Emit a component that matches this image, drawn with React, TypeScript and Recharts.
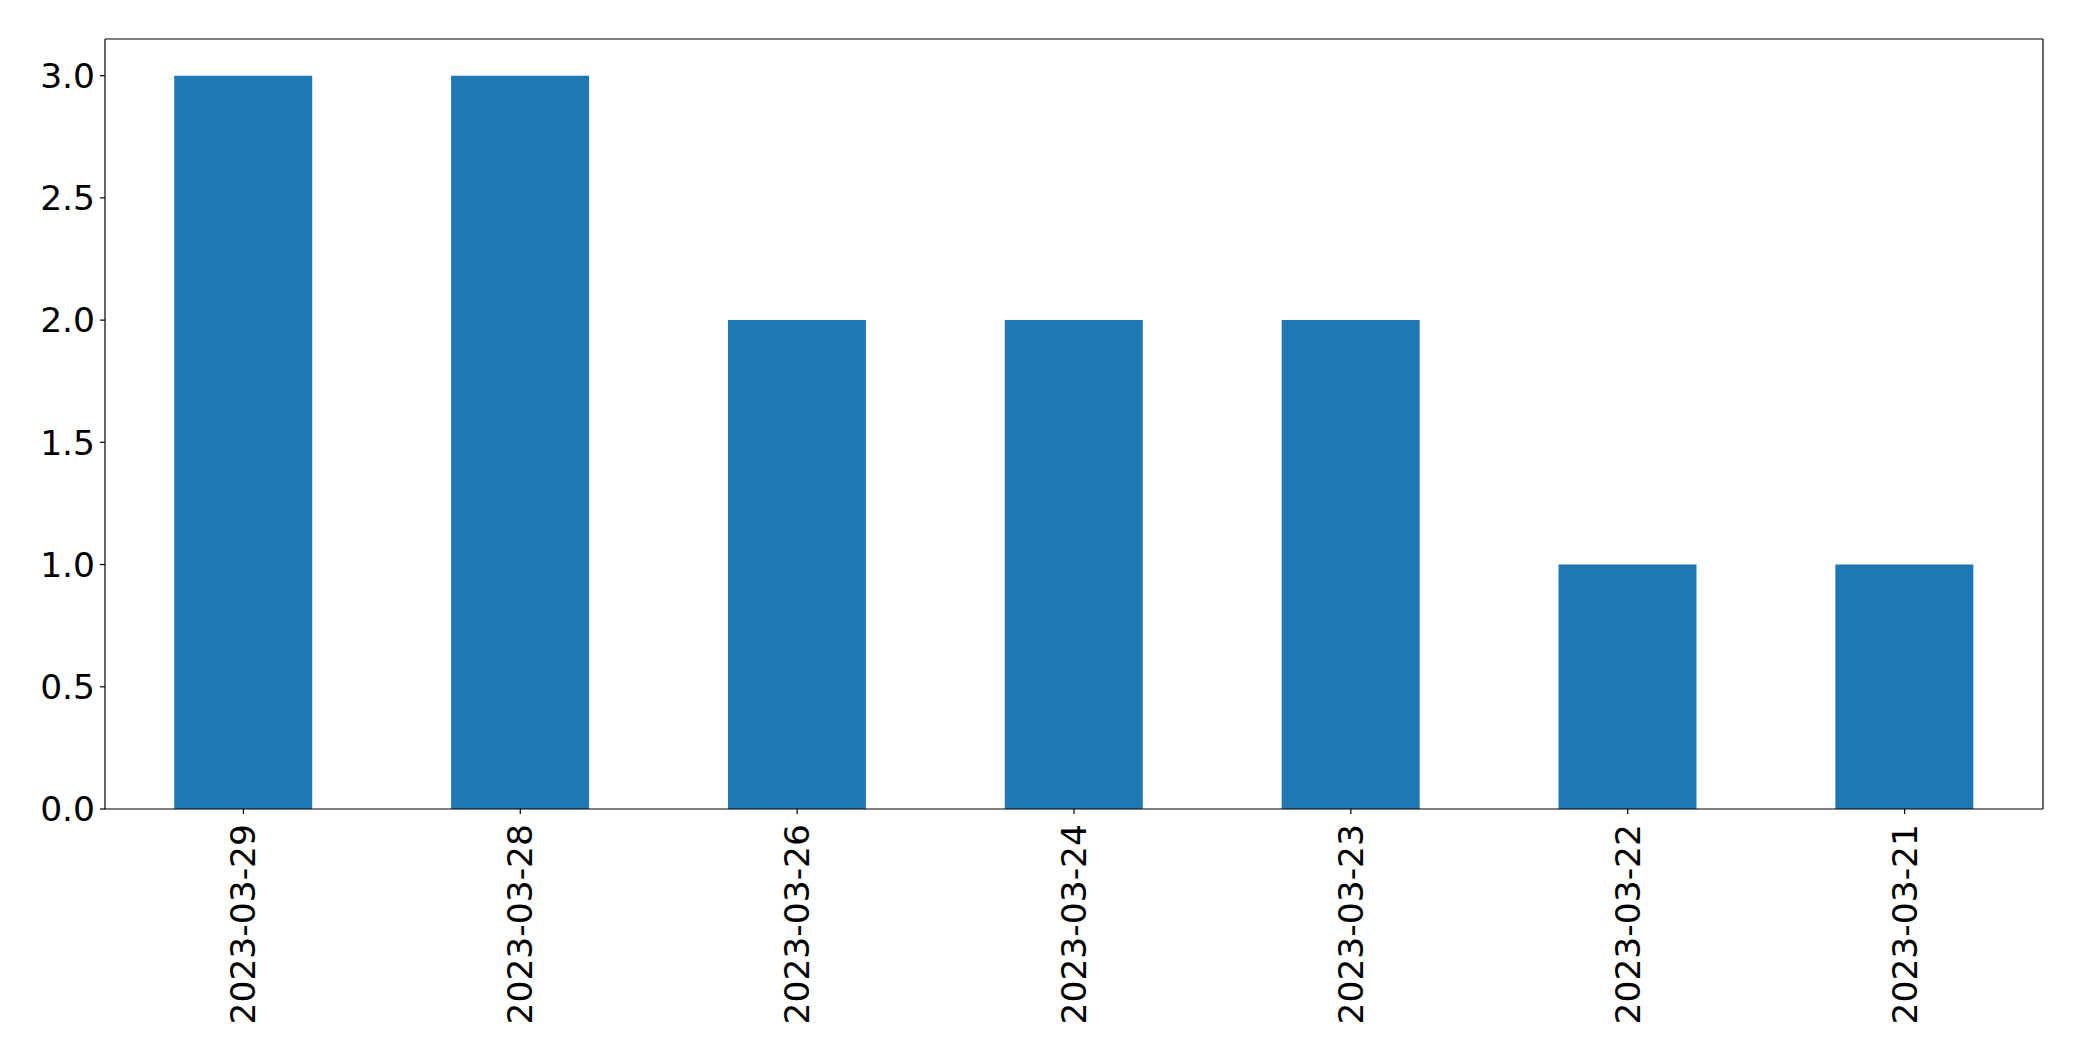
import React from "react";
import { BarChart, Bar, XAxis, YAxis } from "recharts";

const dates = ["2023-03-29", "2023-03-28", "2023-03-26", "2023-03-24", "2023-03-23", "2023-03-22", "2023-03-21"];
const counts = [3, 3, 2, 2, 2, 1, 1];
const yTicks = [0, 0.5, 1.0, 1.5, 2.0, 2.5, 3.0];

const data = dates.map((d, i) => ({ date: d, count: counts[i] }));

const FONT = "DejaVu Sans";
const FS = 34.5;

const XTick = (props: any) => {
  const { x, y, payload } = props;
  return (
    <text
      x={x}
      y={y}
      transform={`rotate(-90, ${x}, ${y})`}
      textAnchor="end"
      dominantBaseline="central"
      fontFamily={FONT}
      fontSize={FS}
      fill="#000"
    >
      {payload.value}
    </text>
  );
};

const axisStyle = { stroke: "#000", strokeWidth: 1.2 };

export default function App() {
  return (
    <div style={{ position: "absolute", left: 0, top: 0, width: 2082, height: 1061, background: "#fff" }}>
      <BarChart
        width={2082}
        height={1061}
        data={data}
        margin={{ top: 38, right: 38, left: 0, bottom: 0 }}
        barCategoryGap="25%"
      >
        <XAxis
          dataKey="date"
          height={252}
          tick={<XTick />}
          tickLine={axisStyle}
          tickSize={5}
          tickMargin={10}
          axisLine={axisStyle}
          interval={0}
        />
        <XAxis
          xAxisId="top"
          dataKey="date"
          orientation="top"
          height={1}
          tick={false}
          tickLine={false}
          axisLine={axisStyle}
        />
        <YAxis
          domain={[0, 3.15]}
          ticks={yTicks}
          width={105}
          tickFormatter={(v: number) => v.toFixed(1)}
          tick={{ fill: "#000", fontFamily: FONT, fontSize: FS }}
          tickLine={axisStyle}
          tickSize={5}
          tickMargin={5}
          axisLine={axisStyle}
          allowDataOverflow
        />
        <YAxis
          yAxisId="right"
          orientation="right"
          domain={[0, 3.15]}
          width={1}
          tick={false}
          tickLine={false}
          axisLine={axisStyle}
        />
        <Bar dataKey="count" fill="#1f77b4" isAnimationActive={false} />
      </BarChart>
    </div>
  );
}
